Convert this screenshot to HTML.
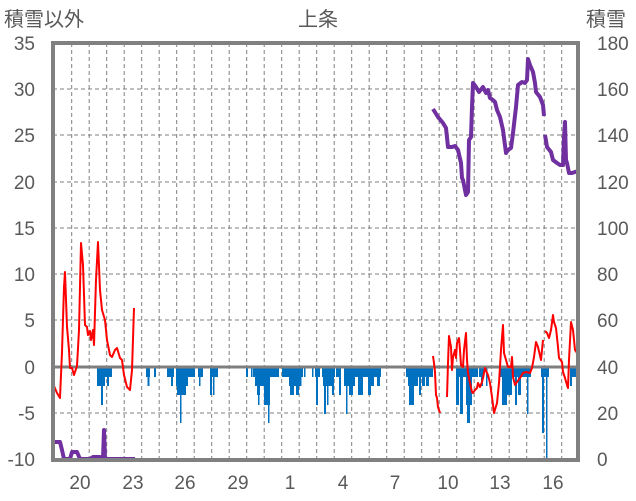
<!DOCTYPE html>
<html><head><meta charset="utf-8"><style>
html,body{margin:0;padding:0;background:#fff;}
svg{display:block;font-family:"Liberation Sans","Noto Sans CJK JP",sans-serif;}
</style></head><body>
<svg width="636" height="501" viewBox="0 0 636 501" xmlns="http://www.w3.org/2000/svg">
<rect width="636" height="501" fill="#fff"/>
<g stroke="#7f7f7f" stroke-width="1" stroke-dasharray="4,3" fill="none">
<line x1="53" y1="89" x2="578" y2="89"/><line x1="53" y1="135" x2="578" y2="135"/><line x1="53" y1="182" x2="578" y2="182"/><line x1="53" y1="228" x2="578" y2="228"/><line x1="53" y1="274" x2="578" y2="274"/><line x1="53" y1="320" x2="578" y2="320"/><line x1="53" y1="413" x2="578" y2="413"/>
<line x1="71.7" y1="43" x2="71.7" y2="460"/><line x1="89.2" y1="43" x2="89.2" y2="460"/><line x1="106.7" y1="43" x2="106.7" y2="460"/><line x1="124.2" y1="43" x2="124.2" y2="460"/><line x1="141.7" y1="43" x2="141.7" y2="460"/><line x1="159.2" y1="43" x2="159.2" y2="460"/><line x1="176.7" y1="43" x2="176.7" y2="460"/><line x1="194.2" y1="43" x2="194.2" y2="460"/><line x1="211.7" y1="43" x2="211.7" y2="460"/><line x1="229.2" y1="43" x2="229.2" y2="460"/><line x1="246.7" y1="43" x2="246.7" y2="460"/><line x1="264.2" y1="43" x2="264.2" y2="460"/><line x1="281.7" y1="43" x2="281.7" y2="460"/><line x1="299.2" y1="43" x2="299.2" y2="460"/><line x1="316.7" y1="43" x2="316.7" y2="460"/><line x1="334.2" y1="43" x2="334.2" y2="460"/><line x1="351.7" y1="43" x2="351.7" y2="460"/><line x1="369.2" y1="43" x2="369.2" y2="460"/><line x1="386.7" y1="43" x2="386.7" y2="460"/><line x1="404.2" y1="43" x2="404.2" y2="460"/><line x1="421.7" y1="43" x2="421.7" y2="460"/><line x1="439.2" y1="43" x2="439.2" y2="460"/><line x1="456.7" y1="43" x2="456.7" y2="460"/><line x1="474.2" y1="43" x2="474.2" y2="460"/><line x1="491.7" y1="43" x2="491.7" y2="460"/><line x1="509.2" y1="43" x2="509.2" y2="460"/><line x1="526.7" y1="43" x2="526.7" y2="460"/><line x1="544.2" y1="43" x2="544.2" y2="460"/><line x1="561.7" y1="43" x2="561.7" y2="460"/>
</g>
<g fill="#0070c0">
<rect x="97" y="367" width="15" height="10"/><rect x="97" y="367" width="8" height="19"/><rect x="101" y="367" width="2" height="38"/><rect x="107" y="367" width="2" height="19"/>
<rect x="146" y="367" width="4" height="10"/><rect x="147.5" y="367" width="2" height="19"/><rect x="154" y="367" width="2" height="10"/>
<rect x="167" y="367" width="7" height="10"/><rect x="171" y="367" width="2" height="19"/>
<rect x="176" y="367" width="19" height="10"/><rect x="176" y="367" width="12" height="19"/><rect x="177" y="367" width="9" height="28"/><rect x="180" y="367" width="1.5" height="56"/>
<rect x="198" y="367" width="5" height="10"/><rect x="199" y="367" width="1.5" height="19"/>
<rect x="210" y="367" width="8" height="10"/><rect x="210" y="367" width="2" height="28"/><rect x="213" y="367" width="1.5" height="28"/>
<rect x="246" y="367" width="2" height="10"/><rect x="251" y="367" width="1.5" height="10"/>
<rect x="253" y="367" width="26" height="10"/><rect x="255" y="367" width="15" height="19"/><rect x="257" y="367" width="3" height="28"/><rect x="258" y="367" width="1.5" height="38"/><rect x="264" y="367" width="6" height="38"/><rect x="268" y="367" width="1.5" height="56"/>
<rect x="282" y="367" width="21" height="10"/><rect x="289" y="367" width="11" height="19"/><rect x="290" y="367" width="4" height="28"/><rect x="296" y="367" width="3" height="28"/>
<rect x="300" y="367" width="3" height="10"/><rect x="300" y="367" width="1.5" height="19"/><rect x="304" y="367" width="1.5" height="10"/>
<rect x="312" y="367" width="1.5" height="10"/><rect x="315" y="367" width="5" height="10"/><rect x="316" y="367" width="2" height="38"/>
<rect x="322" y="367" width="13" height="10"/><rect x="323" y="367" width="10" height="19"/><rect x="324" y="367" width="2" height="47"/><rect x="327" y="367" width="1.5" height="38"/><rect x="332" y="367" width="2" height="28"/>
<rect x="336" y="367" width="5" height="10"/><rect x="339" y="367" width="2" height="28"/>
<rect x="344" y="367" width="37" height="10"/><rect x="344" y="367" width="6" height="19"/><rect x="346" y="367" width="1.5" height="47"/><rect x="349" y="367" width="4" height="28"/><rect x="351" y="367" width="4" height="19"/><rect x="358" y="367" width="3" height="28"/><rect x="361" y="367" width="2" height="28"/><rect x="368" y="367" width="3" height="28"/><rect x="371" y="367" width="3" height="19"/><rect x="377" y="367" width="3" height="19"/>
<rect x="406" y="367" width="27" height="10"/><rect x="408" y="367" width="10" height="19"/><rect x="409" y="367" width="5" height="38"/><rect x="419" y="367" width="2" height="28"/><rect x="422" y="367" width="3" height="19"/><rect x="426" y="367" width="3" height="19"/>
<rect x="456" y="367" width="22" height="10"/><rect x="456" y="367" width="3" height="38"/><rect x="460" y="367" width="3" height="47"/><rect x="466" y="367" width="2" height="38"/><rect x="467" y="367" width="3" height="56"/><rect x="470" y="367" width="2" height="38"/>
<rect x="479" y="367" width="5" height="10"/><rect x="481" y="367" width="2" height="19"/><rect x="486" y="367" width="1.5" height="19"/>
<rect x="500" y="367" width="31" height="10"/><rect x="502" y="367" width="5" height="38"/><rect x="507" y="367" width="5" height="28"/><rect x="515" y="367" width="2" height="38"/><rect x="518" y="367" width="3" height="28"/><rect x="527" y="367" width="1.5" height="47"/>
<rect x="541" y="367" width="8" height="10"/><rect x="542" y="367" width="2" height="66"/><rect x="546" y="367" width="1.5" height="93"/>
<rect x="570" y="367" width="9" height="10"/><rect x="570" y="367" width="2" height="19"/>
</g>
<line x1="53" y1="367" x2="578" y2="367" stroke="#7f7f7f" stroke-width="3"/>
<g fill="none" stroke="#ff0000" stroke-width="2" stroke-linejoin="round">
<polyline points="54,386 57,393 60,398 62,352 64,287 65,272 67,327 69,350 70,368 72,368 74,375 77,366 79,330 81,243 83,265 85,325 87,327 88,335 90,331 91,340 93,330 94,345 96,280 98,242 100,290 102,310 105,320 107,340 110,355 112,357 115,350 117,348 120,358 122,360 124,375 127,387 130,390 132,370 134,308"/>
<polyline points="433,356 434,363 435,372 436,395 437,398 438,407 440,413"/>
<polyline points="447,397 448,363 449,336 451,347 452,370 453,357 455,350 456,358 457,343 459,338 460,350 461,365 463,367 464,350 466,333 467,360 468,373 470,383 472,392 473,393 475,390 477,388 478,383 480,387 482,382 483,378 485,368 487,373 488,375 490,383 492,397 494,413 497,403 499,383 501,350 503,325 504,353 506,360 508,367 511,367 512,357 513,377 515,385 517,382 520,378 523,373 526,372 530,373 532,368 534,357 536,342 538,347 541,360 543,340"/>
<polyline points="545,331 547,333 549,338 551,330 553,315 554,322 556,328 558,347 559,358 562,362 563,372 565,378 567,385 568,388 569,360 571,322 573,330 575,350 577,353 579,367"/>
</g>
<g fill="none" stroke="#7030a0" stroke-width="4" stroke-linejoin="round">
<polyline points="54,442 60,442 62,450 64,459 70,459 72,452 77,452 80,459 90,459 93,457 100,457 103,459 104,430 105,459 135,459"/>
<polyline points="433,109 438,117 443,123 446,128 448,147 452,147 455,146 458,150 461,163 462,178 463,180 466,195 468,192 469,140 471,137 472,107 473,83 476,87 479,92 483,87 486,93 488,90 490,98 493,100 495,102 497,110 500,117 503,130 506,153 508,150 511,148 513,133 516,107 518,85 522,82 525,83 527,80 528,59 530,65 533,72 535,83 536,92 540,97 543,105 544,116"/>
<polyline points="545,135 547,147 551,152 553,160 557,163 560,165 563,165 564,137 565,122 566,160 567,163 569,173 572,173 575,172 578,171"/>
</g>
<rect x="53" y="43" width="525" height="417" fill="none" stroke="#808080" stroke-width="4"/>
<g fill="#595959" font-size="20">
<text x="4" y="26">積雪以外</text>
<text x="318" y="26" text-anchor="middle">上条</text>
<text x="586" y="26">積雪</text>
</g>
<g fill="#595959" font-size="19" text-anchor="end">
<text x="35" y="50">35</text><text x="35" y="96">30</text><text x="35" y="142">25</text><text x="35" y="189">20</text><text x="35" y="235">15</text><text x="35" y="281">10</text><text x="35" y="327">5</text><text x="35" y="374">0</text><text x="35" y="420">-5</text><text x="35" y="466">-10</text>
</g>
<g fill="#595959" font-size="19">
<text x="597" y="50">180</text><text x="597" y="96">160</text><text x="597" y="142">140</text><text x="597" y="189">120</text><text x="597" y="235">100</text><text x="597" y="281">80</text><text x="597" y="327">60</text><text x="597" y="374">40</text><text x="597" y="420">20</text><text x="597" y="466">0</text>
</g>
<g fill="#595959" font-size="19" text-anchor="middle">
<text x="80" y="489">20</text><text x="133" y="489">23</text><text x="185" y="489">26</text><text x="238" y="489">29</text><text x="290" y="489">1</text><text x="343" y="489">4</text><text x="395" y="489">7</text><text x="448" y="489">10</text><text x="500" y="489">13</text><text x="553" y="489">16</text>
</g>
</svg>
</body></html>
